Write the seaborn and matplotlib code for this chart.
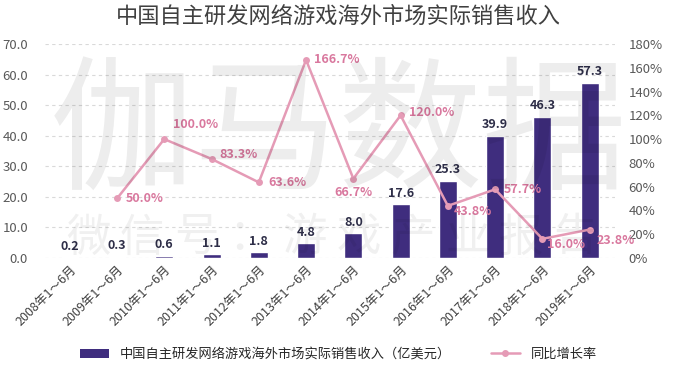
import numpy as np
import pandas as pd
import matplotlib
matplotlib.use('Agg')
import matplotlib.pyplot as plt
import seaborn as sns
from matplotlib.patches import Patch
from matplotlib.lines import Line2D

# data
years = ['2008', '2009', '2010', '2011', '2012', '2013', '2014', '2015', '2016', '2017', '2018', '2019']
revenue = [0.2, 0.3, 0.6, 1.1, 1.8, 4.8, 8.0, 17.6, 25.3, 39.9, 46.3, 57.3]
growth = [np.nan, 50.0, 100.0, 83.3, 63.6, 166.7, 66.7, 120.0, 43.8, 57.7, 16.0, 23.8]
periods = [y + '年1～6月' for y in years]

title = '中国自主研发网络游戏海外市场实际销售收入'
bar_name = '中国自主研发网络游戏海外市场实际销售收入（亿美元）'
line_name = '同比增长率'

sns.set_theme(style='white')
plt.rcParams['font.family'] = ['Noto Sans CJK SC', 'DejaVu Sans']

bar_col = '#3f2d7e'
line_col = '#e59bb6'
lab_col = '#d9789e'

df = pd.DataFrame({'period': periods, 'revenue': revenue, 'growth': growth})
df['pos'] = np.arange(len(df))

fig = plt.figure(figsize=(6.77, 3.71), dpi=100)
ax = fig.add_axes([0.066, 0.305, 0.842, 0.576])

# watermark
fig.text(0.5, 0.63, '伽马数据', fontsize=104, color='#000000', alpha=0.07,
         ha='center', va='center', zorder=0)
for i, ch in enumerate('微信号：游戏产业报告'):
    fig.text(0.13 + i * 0.08, 0.36, ch, fontsize=32, color='#000000', alpha=0.06,
             ha='center', va='center', zorder=0)

sns.barplot(data=df, x='period', y='revenue', color=bar_col, width=0.38,
            saturation=1, ax=ax, zorder=3)
ax.set_ylim(0, 70)
ax.set_yticks(np.arange(0, 71, 10))
ax.set_yticklabels(['%.1f' % v for v in np.arange(0, 71, 10)], fontsize=9.5, color='#595959')
ax.set_xlim(-0.53, 11.53)
ax.yaxis.grid(True, ls=(0, (3, 3)), color='#d9d9d9', lw=0.8, zorder=0)
ax.set_axisbelow(True)
for s in ax.spines.values():
    s.set_visible(False)
ax.set_xlabel('')
ax.set_ylabel('')
ax.tick_params(axis='y', length=0, pad=12)
ax.tick_params(axis='x', length=0, pad=4)
ax.set_xticks(df['pos'])
ax.set_xticklabels(periods, rotation=45, ha='right', rotation_mode='anchor',
                   fontsize=9, color='#404040')

for p, v in zip(df['pos'], revenue):
    ax.text(p, v + 1.5, '%.1f' % v, ha='center', va='bottom', fontsize=9,
            fontweight='bold', color='#2e2e48', zorder=5)

ax2 = ax.twinx()
ax2.set_position(ax.get_position())
sns.lineplot(data=df, x='pos', y='growth', color=line_col, lw=1.8, marker='o',
             markersize=5, markeredgewidth=0, ax=ax2, zorder=4)
ax2.set_ylim(0, 180)
ax2.set_yticks(np.arange(0, 181, 20))
ax2.set_yticklabels(['%d%%' % v for v in np.arange(0, 181, 20)], fontsize=9.5, color='#595959')
ax2.tick_params(axis='y', length=0, pad=10)
for s in ax2.spines.values():
    s.set_visible(False)
ax2.set_xlabel('')
ax2.set_ylabel('')
ax.set_xlim(-0.53, 11.53)

offsets = {1: (6, 0, 'left', 'center'), 2: (6, 6, 'left', 'bottom'), 3: (6, 3, 'left', 'center'),
           4: (7, 0, 'left', 'center'), 5: (6, 0, 'left', 'center'), 6: (0, -5, 'center', 'top'),
           7: (6, 2, 'left', 'center'), 8: (4, -4, 'left', 'center'), 9: (6, 0, 'left', 'center'),
           10: (3, -4, 'left', 'center'), 11: (5, -8, 'left', 'center')}
for i, g in enumerate(growth):
    if np.isnan(g):
        continue
    dx, dy, ha, va = offsets[i]
    ax2.annotate('%.1f%%' % g, (i, g), xytext=(dx, dy), textcoords='offset points',
                 ha=ha, va=va, fontsize=9, fontweight='bold', color=lab_col, zorder=6)

fig.text(0.5, 0.957, title, ha='center', va='center', fontsize=16, color='#404040')

handles = [Patch(facecolor=bar_col, edgecolor='none'),
           Line2D([0], [0], color=line_col, lw=1.8, marker='o', markersize=4)]
fig.legend(handles, [bar_name, line_name], loc='center', bbox_to_anchor=(0.5, 0.045),
           ncol=2, frameon=False, fontsize=9.5, columnspacing=3, handlelength=2.2,
           handleheight=0.7)

fig.savefig('out.png', dpi=100)
